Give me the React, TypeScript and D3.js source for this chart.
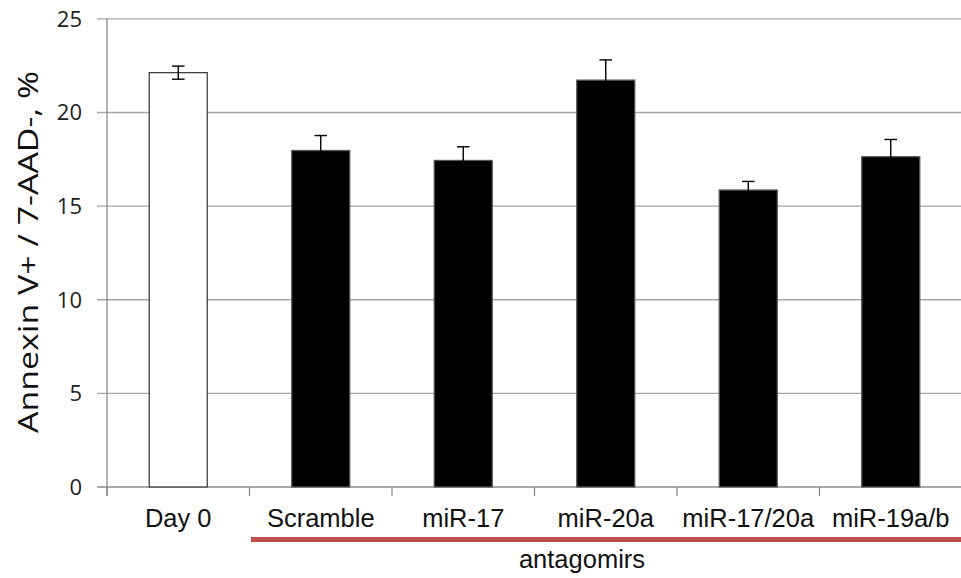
import React from "react";
import * as d3 from "d3";

const categories = ["Day 0", "Scramble", "miR-17", "miR-20a", "miR-17/20a", "miR-19a/b"];
const values = [22.13, 17.97, 17.44, 21.73, 15.86, 17.64];
const errors = [0.35, 0.8, 0.73, 1.08, 0.46, 0.92];
const fills = ["#ffffff", "#000000", "#000000", "#000000", "#000000", "#000000"];
const yTicks = [0, 5, 10, 15, 20, 25];
const yLabel = "Annexin V+ / 7-AAD-, %";
const groupLabel = "antagomirs";

export default function App() {
  const W = 961, H = 578;
  const left = 107, right = 962, top = 18.9, bottom = 487;
  const x = d3.scaleBand<string>().domain(categories).range([left, right]).padding(0);
  const y = d3.scaleLinear().domain([0, 25]).range([bottom, top]);
  const bw = x.bandwidth() * 0.407;
  const boundaries = categories.map((c) => x(c) as number).concat([right]);

  return (
    <svg width={W} height={H} style={{ position: "absolute", left: 0, top: 0, background: "#fff" }}>
      {yTicks.map((t) => (
        <line key={"g" + t} x1={97} x2={W} y1={y(t)} y2={y(t)} stroke={t === 0 ? "#8c8c8c" : "#a6a6a6"} strokeWidth={1.3} />
      ))}
      <line x1={left} x2={left} y1={top} y2={bottom + 9} stroke="#8c8c8c" strokeWidth={1.3} />
      {boundaries.map((b, i) => (
        <line key={"xt" + i} x1={b} x2={b} y1={bottom} y2={bottom + 9} stroke="#8c8c8c" strokeWidth={1.3} />
      ))}
      {yTicks.map((t) => (
        <text key={"yl" + t} x={82} y={y(t)} dy="0.36em" textAnchor="end" fontFamily="Open Sans" fontSize={22} fill="#222">
          {t}
        </text>
      ))}
      {categories.map((c, i) => {
        const cx = (x(c) as number) + x.bandwidth() / 2;
        return (
          <g key={"b" + c}>
            <rect x={cx - bw / 2} y={y(values[i])} width={bw} height={y(0) - y(values[i])} fill={fills[i]} stroke={i === 0 ? "#404040" : "#555"} strokeWidth={1.3} />
            <line x1={cx} x2={cx} y1={y(values[i] + errors[i])} y2={y(values[i] - errors[i])} stroke="#000" strokeWidth={1.4} />
            <line x1={cx - 6.3} x2={cx + 6.3} y1={y(values[i] + errors[i])} y2={y(values[i] + errors[i])} stroke="#000" strokeWidth={1.4} />
            <line x1={cx - 6.3} x2={cx + 6.3} y1={y(values[i] - errors[i])} y2={y(values[i] - errors[i])} stroke="#000" strokeWidth={1.4} />
          </g>
        );
      })}
      {categories.map((c) => (
        <text key={"xl" + c} x={(x(c) as number) + x.bandwidth() / 2} y={527} textAnchor="middle" fontFamily="Liberation Sans" fontSize={25.5} fill="#111">
          {c}
        </text>
      ))}
      <line x1={251} x2={W} y1={539.6} y2={539.6} stroke="#c0504d" strokeWidth={5} />
      <text x={582} y={568} textAnchor="middle" fontFamily="Liberation Sans" fontSize={25.5} fill="#111">
        {groupLabel}
      </text>
      <text
        transform={`translate(38, 252) rotate(-90)`}
        textAnchor="middle"
        fontFamily="Open Sans"
        fontSize={28}
        fill="#111"
        textLength={362}
        lengthAdjust="spacingAndGlyphs"
      >
        {yLabel}
      </text>
    </svg>
  );
}
